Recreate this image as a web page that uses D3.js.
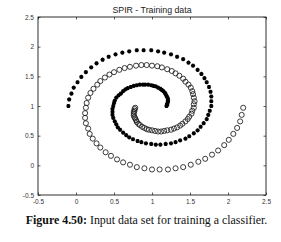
<!DOCTYPE html>
<html><head><meta charset="utf-8">
<script src="https://cdn.jsdelivr.net/npm/d3@7"></script>
<style>
html,body{margin:0;padding:0;background:#fff;}
svg{display:block;}
</style></head>
<body><svg id="c" width="281" height="242"></svg>
<script>
const title = "SPIR - Training data";
const caption = ["Figure 4.50:", " Input data set for training a classifier."];
const xTicks = [-0.5, 0, 0.5, 1, 1.5, 2, 2.5];
const yTicks = [-0.5, 0, 0.5, 1, 1.5, 2, 2.5];
const xTickLabels = ["-0.5","0","0.5","1","1.5","2","2.5"];
const yTickLabels = ["-0.5","0","0.5","1","1.5","2","2.5"];

// class 1: open circles
const circleX = [2.20,2.18,2.16,2.12,2.07,2.01,1.95,1.87,1.79,1.70,1.61,1.51,1.41,1.31,1.21,1.10,
 1.00,0.90,0.80,0.71,0.62,0.54,0.46,0.39,0.32,0.27,0.22,0.18,0.16,0.13,0.12,0.12,
 0.13,0.14,0.16,0.19,0.23,0.28,0.32,0.38,0.44,0.50,0.57,0.64,0.71,0.79,0.86,0.93,
 1.00,1.07,1.13,1.20,1.26,1.31,1.36,1.41,1.44,1.48,1.51,1.53,1.54,1.55,1.56,1.55,
 1.55,1.53,1.52,1.49,1.47,1.44,1.40,1.37,1.33,1.29,1.25,1.20,1.16,1.12,1.08,1.04,
 1.00,0.96,0.93,0.90,0.87,0.84,0.82,0.80,0.79,0.78,0.77,0.76,0.76,0.76,0.77,0.77,0.78];
const circleY = [0.97,0.85,0.74,0.63,0.53,0.43,0.34,0.25,0.18,0.11,0.06,0.01,-0.03,-0.05,-0.07,-0.07,
 -0.07,-0.05,-0.03,0.01,0.05,0.10,0.16,0.22,0.30,0.37,0.45,0.53,0.62,0.71,0.80,0.88,
 0.97,1.05,1.14,1.22,1.29,1.36,1.42,1.48,1.53,1.57,1.61,1.64,1.66,1.68,1.69,1.69,
 1.68,1.67,1.65,1.62,1.59,1.55,1.51,1.46,1.41,1.36,1.31,1.25,1.20,1.14,1.08,1.03,
 0.97,0.92,0.87,0.82,0.78,0.74,0.70,0.67,0.64,0.62,0.60,0.59,0.58,0.57,0.57,0.58,
 0.59,0.60,0.61,0.63,0.65,0.68,0.70,0.73,0.76,0.79,0.81,0.84,0.87,0.90,0.92,0.95,0.97];

// class 2: asterisks
const starX = [-0.10,-0.09,-0.06,-0.03,0.02,0.07,0.13,0.20,0.27,0.35,0.43,0.52,0.61,0.70,0.80,0.89,
 0.99,1.08,1.16,1.25,1.33,1.41,1.48,1.54,1.60,1.65,1.69,1.72,1.75,1.77,1.78,1.78,
 1.78,1.76,1.74,1.72,1.68,1.64,1.60,1.55,1.49,1.44,1.37,1.31,1.25,1.18,1.11,1.05,
 0.99,0.92,0.86,0.81,0.75,0.70,0.66,0.62,0.58,0.55,0.53,0.51,0.49,0.48,0.48,0.48,
 0.49,0.50,0.51,0.53,0.56,0.59,0.62,0.65,0.68,0.72,0.76,0.80,0.84,0.88,0.91,0.95,
 0.99,1.02,1.05,1.08,1.11,1.13,1.15,1.17,1.18,1.19,1.20,1.21,1.21,1.21,1.20,1.20,1.19];
const starY = [1.00,1.11,1.21,1.31,1.40,1.49,1.57,1.65,1.72,1.78,1.83,1.87,1.90,1.92,1.94,1.94,
 1.94,1.92,1.90,1.87,1.83,1.79,1.73,1.68,1.61,1.54,1.47,1.40,1.32,1.24,1.16,1.08,
 1.00,0.92,0.85,0.78,0.71,0.65,0.59,0.54,0.49,0.45,0.42,0.39,0.37,0.36,0.35,0.35,
 0.36,0.37,0.39,0.41,0.44,0.47,0.51,0.55,0.60,0.64,0.69,0.74,0.80,0.85,0.90,0.95,
 1.00,1.05,1.09,1.14,1.18,1.21,1.25,1.28,1.30,1.32,1.34,1.35,1.36,1.36,1.36,1.36,
 1.35,1.34,1.33,1.31,1.29,1.27,1.25,1.22,1.20,1.17,1.15,1.12,1.09,1.07,1.04,1.02,1.00];

const svg = d3.select("#c");
const L = 38, R = 266, T = 17, B = 195;
const x = d3.scaleLinear().domain([-0.5, 2.5]).range([L, R]);
const y = d3.scaleLinear().domain([-0.5, 2.5]).range([B, T]);
const ink = "#1a1a1a";

// frame
svg.append("rect").attr("x", L).attr("y", T).attr("width", R - L).attr("height", B - T)
  .attr("fill", "none").attr("stroke", ink).attr("stroke-width", 0.9);

const fnt = "Liberation Sans, Arial, sans-serif";
function styleAxis(g){
  g.select(".domain").remove();
  g.selectAll(".tick line").attr("stroke", ink).attr("stroke-width", 0.7);
  g.selectAll(".tick text").attr("font-family", fnt).attr("font-size", 6.5).attr("fill", "#333");
}
const xi = d => xTickLabels[xTicks.indexOf(d)];
const yi = d => yTickLabels[yTicks.indexOf(d)];
svg.append("g").attr("transform", `translate(0,${B})`)
  .call(d3.axisBottom(x).tickValues(xTicks).tickFormat(xi).tickSizeInner(-2.5).tickSizeOuter(0).tickPadding(4))
  .call(styleAxis);
svg.append("g").attr("transform", `translate(0,${T})`)
  .call(d3.axisTop(x).tickValues(xTicks).tickFormat("").tickSizeInner(-2.5).tickSizeOuter(0))
  .call(styleAxis);
svg.append("g").attr("transform", `translate(${L},0)`)
  .call(d3.axisLeft(y).tickValues(yTicks).tickFormat(yi).tickSizeInner(-2.5).tickSizeOuter(0).tickPadding(4))
  .call(styleAxis);
svg.append("g").attr("transform", `translate(${R},0)`)
  .call(d3.axisRight(y).tickValues(yTicks).tickFormat("").tickSizeInner(-2.5).tickSizeOuter(0))
  .call(styleAxis);

// title
svg.append("text").attr("x", (L + R) / 2).attr("y", 13).attr("text-anchor", "middle")
  .attr("font-family", fnt).attr("font-size", 8.8).attr("fill", "#222").text(title);

// circles
const circles = circleX.map((v, i) => [v, circleY[i]]);
svg.append("g").selectAll("circle").data(circles).join("circle")
  .attr("cx", d => x(d[0])).attr("cy", d => y(d[1])).attr("r", 2.55)
  .attr("fill", "none").attr("stroke", ink).attr("stroke-width", 0.85);

// asterisks
const a = 2.1, b = 1.5;
const star = `M${-a},0L${a},0M0,${-a}L0,${a}M${-b},${-b}L${b},${b}M${-b},${b}L${b},${-b}`;
const stars = starX.map((v, i) => [v, starY[i]]);
svg.append("g").selectAll("path").data(stars).join("path")
  .attr("transform", d => `translate(${x(d[0])},${y(d[1])})`)
  .attr("d", star).attr("fill", "none").attr("stroke", "#000").attr("stroke-width", 1.2);

// caption
const cap = svg.append("text").attr("x", 146.5).attr("y", 224).attr("text-anchor", "middle")
  .attr("font-family", "Liberation Serif, Times New Roman, serif").attr("font-size", 11.9).attr("fill", "#111");
cap.append("tspan").attr("font-weight", "bold").text(caption[0]);
cap.append("tspan").text(caption[1]);
</script></body></html>
